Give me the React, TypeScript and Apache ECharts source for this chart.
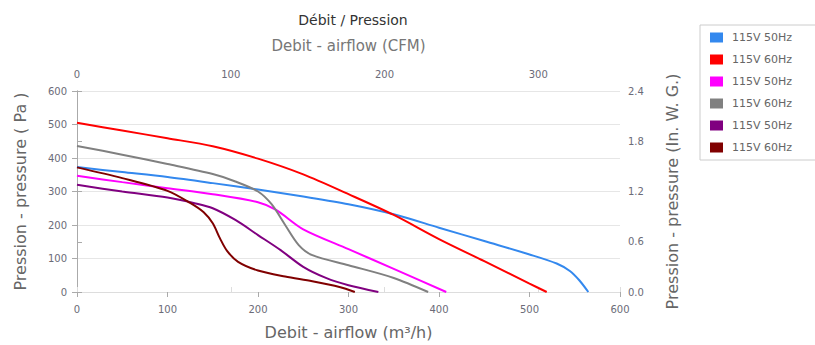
import React, { useEffect, useRef } from "react";
import * as echarts from "echarts";

const seriesNames = ["115V 50Hz", "115V 60Hz", "115V 50Hz", "115V 60Hz", "115V 50Hz", "115V 60Hz"];
const seriesColors = ["#3388ee", "#ff0000", "#ff00ff", "#808080", "#800080", "#800000"];

const blue: [number, number][] = [[0,373],[50,358],[100,343],[150,325],[200,306],[250,285],[300,262],[350,232],[400,192],[450,152],[500,112],[530,85],[545,62],[555,35],[565,0]];
const red: [number, number][] = [[0,505],[50,482],[100,459],[150,435],[200,398],[250,351],[300,292],[350,230],[400,158],[450,92],[500,25],[519,0]];
const magenta: [number, number][] = [[0,347],[50,328],[100,310],[150,292],[200,268],[220,245],[250,187],[300,128],[350,69],[408,0]];
const gray: [number, number][] = [[0,436],[50,410],[100,382],[150,352],[175,330],[200,300],[215,262],[230,200],[245,140],[260,110],[300,80],[350,42],[388,0]];
const purple: [number, number][] = [[0,320],[50,300],[100,282],[130,265],[150,250],[175,215],[200,170],[225,125],[250,75],[275,42],[300,20],[333,0]];
const maroon: [number, number][] = [[0,372],[50,340],[100,302],[125,266],[140,238],[150,205],[158,160],[166,122],[178,90],[200,64],[230,46],[260,32],[290,15],[307,0]];

const seriesData = [blue, red, magenta, gray, purple, maroon];

const CFM_TO_M3H = 1.699;
const leftTicks = { min: 0, max: 600, interval: 100 };
const rightTicks = { min: 0, max: 2.4, interval: 0.6 };

export default function App() {
  const ref = useRef<HTMLDivElement>(null);
  useEffect(() => {
    if (!ref.current) return;
    const chart = echarts.init(ref.current, undefined, { renderer: "svg" });
    const labelColor = "#6b6b78";
    const axisLineColor = "#aaaaaa";
    chart.setOption({
      animation: false,
      textStyle: { fontFamily: "DejaVu Sans" },
      title: {
        text: "Débit / Pression",
        left: 348,
        textAlign: "center",
        top: 8,
        textStyle: { fontSize: 14, fontWeight: "normal", color: "#333" },
      },
      legend: {
        orient: "vertical",
        left: 700,
        top: 25,
        padding: [7, 40, 7, 10],
        borderColor: "#cccccc",
        borderWidth: 1,
        itemWidth: 13,
        itemHeight: 10,
        itemGap: 11,
        icon: "rect",
        textStyle: { fontSize: 11, color: "#666", padding: [0, 0, 0, 4] },
        formatter: (n: string) => n.split("#")[0],
        data: seriesNames.map((n, i) => n + "#" + i),
      },
      grid: { left: 77, right: 195, top: 91, bottom: 53 },
      xAxis: [
        {
          type: "value",
          position: "bottom",
          min: 0,
          max: 600,
          interval: 100,
          name: "Debit - airflow (m³/h)",
          nameLocation: "middle",
          nameGap: 32,
          nameTextStyle: { fontSize: 16, color: "#666" },
          axisLine: { show: true, lineStyle: { color: axisLineColor } },
          axisTick: { show: true, length: 5, lineStyle: { color: axisLineColor } },
          axisLabel: { fontSize: 10, color: labelColor, margin: 12 },
          splitLine: { show: false },
        },
        {
          type: "value",
          position: "top",
          min: 0,
          max: 600 / CFM_TO_M3H,
          interval: 100,
          name: "Debit - airflow (CFM)",
          nameLocation: "middle",
          nameGap: 38,
          nameTextStyle: { fontSize: 15, color: "#777" },
          axisLine: { show: true, lineStyle: { color: "#dddddd" } },
          axisTick: { show: true, length: 5, lineStyle: { color: "#dddddd" } },
          axisLabel: {
            fontSize: 10,
            color: labelColor,
            margin: 12,
            formatter: (v: number) => (Math.abs(v % 100) < 1e-6 ? String(v) : ""),
          },
          splitLine: { show: false },
        },
      ],
      yAxis: [
        {
          type: "value",
          position: "left",
          ...leftTicks,
          name: "Pression - pressure ( Pa )",
          nameLocation: "middle",
          nameGap: 49,
          nameTextStyle: { fontSize: 16, color: "#666" },
          axisLine: { show: true, lineStyle: { color: axisLineColor } },
          axisTick: { show: true, length: 5, lineStyle: { color: axisLineColor } },
          axisLabel: { fontSize: 10, color: labelColor, margin: 10 },
          splitLine: { show: true, lineStyle: { color: "#e6e6e6" } },
        },
        {
          type: "value",
          position: "right",
          ...rightTicks,
          name: "Pression - pressure (In. W. G.)",
          nameLocation: "middle",
          nameGap: 44,
          nameTextStyle: { fontSize: 16, color: "#666" },
          axisLine: { show: true, lineStyle: { color: axisLineColor } },
          axisTick: { show: true, length: 5, lineStyle: { color: axisLineColor } },
          axisLabel: { fontSize: 10, color: labelColor, margin: 8, formatter: (v: number) => v.toFixed(1) },
          splitLine: { show: false },
        },
      ],
      series: seriesData.map((d, i) => ({
        type: "line",
        name: seriesNames[i] + "#" + i,
        xAxisIndex: 0,
        yAxisIndex: 0,
        data: d,
        smooth: 0.3,
        showSymbol: false,
        lineStyle: { width: 2, color: seriesColors[i] },
        itemStyle: { color: seriesColors[i] },
      })),
    });
    return () => chart.dispose();
  }, []);
  return (
    <div
      ref={ref}
      style={{ position: "fixed", left: 0, top: 0, width: 815, height: 345, background: "#fff" }}
    />
  );
}
